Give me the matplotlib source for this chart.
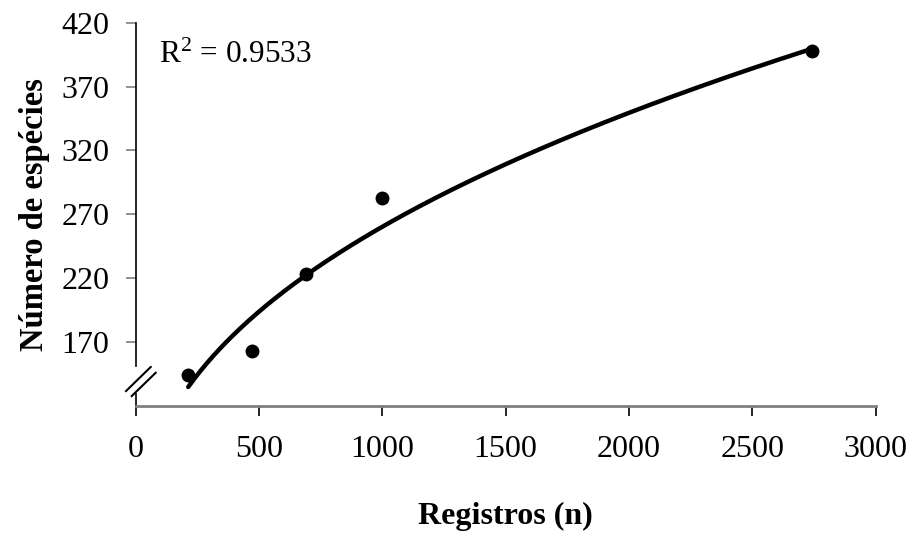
import numpy as np
import matplotlib
matplotlib.use("Agg")
import matplotlib.pyplot as plt

plt.rcParams["font.family"] = ["Liberation Serif", "DejaVu Serif"]
plt.rcParams["mathtext.fontset"] = "custom"
plt.rcParams["mathtext.rm"] = "Liberation Serif"
plt.rcParams["mathtext.it"] = "Liberation Serif:italic"

# Species accumulation: records vs. number of species
registros = [213, 473, 689, 999, 2744]
especies = [144.5, 163, 223, 282.6, 397.8]
r2_label = "0.9533"

x_ticks = [0, 500, 1000, 1500, 2000, 2500, 3000]
y_ticks = [170, 220, 270, 320, 370, 420]

fig = plt.figure(figsize=(9.12, 5.37), dpi=100)
ax = fig.add_axes([0.1488, 0.2439, 0.8112, 0.7138])

# Power trendline y = c * x^p fitted in log space
p, logc = np.polyfit(np.log(registros), np.log(especies), 1)
xs = np.linspace(min(registros), max(registros), 300)
ax.plot(xs, np.exp(logc) * xs ** p, color="black", lw=3.2, solid_capstyle="round", zorder=2)

ax.plot(registros, especies, "o", color="black", ms=9, zorder=3)

ax.set_xlim(0, 3000)
ax.set_ylim(120, 420)
ax.set_xticks(x_ticks)
ax.set_yticks(y_ticks)

for side in ("top", "right"):
    ax.spines[side].set_visible(False)
ax.spines["bottom"].set_color("#808080")
ax.spines["bottom"].set_linewidth(2)
ax.spines["left"].set_color("black")
ax.spines["left"].set_linewidth(1.2)
ax.spines["left"].set_bounds(151, 420)

ax.tick_params(axis="x", direction="out", length=7, width=1.2, color="black",
               labelsize=23, pad=14)
ax.tick_params(axis="y", direction="out", length=7, width=1.2, color="#808080",
               labelsize=23, pad=12)

# Axis break on the y axis
ax.plot([0, 0], [120, 129.8], color="black", lw=1.2, clip_on=False)
for (x0, y0, x1, y1) in [(-0.0131, 0.0391, 0.0203, 0.1018),
                         (-0.0054, 0.0260, 0.0270, 0.0868)]:
    ax.plot([x0, x1], [y0, y1], color="black", lw=1.5,
            transform=ax.transAxes, clip_on=False)

ax.text(0.032, 0.915, r"R$^{2}$ = " + r2_label, transform=ax.transAxes,
        fontsize=22.5, va="center", ha="left")

ax.set_xlabel("Registros (n)", fontsize=23, fontweight="bold", labelpad=27)
ax.set_ylabel("Número de espécies", fontsize=23.5, fontweight="bold", labelpad=8)

fig.savefig("out.png", dpi=100)
